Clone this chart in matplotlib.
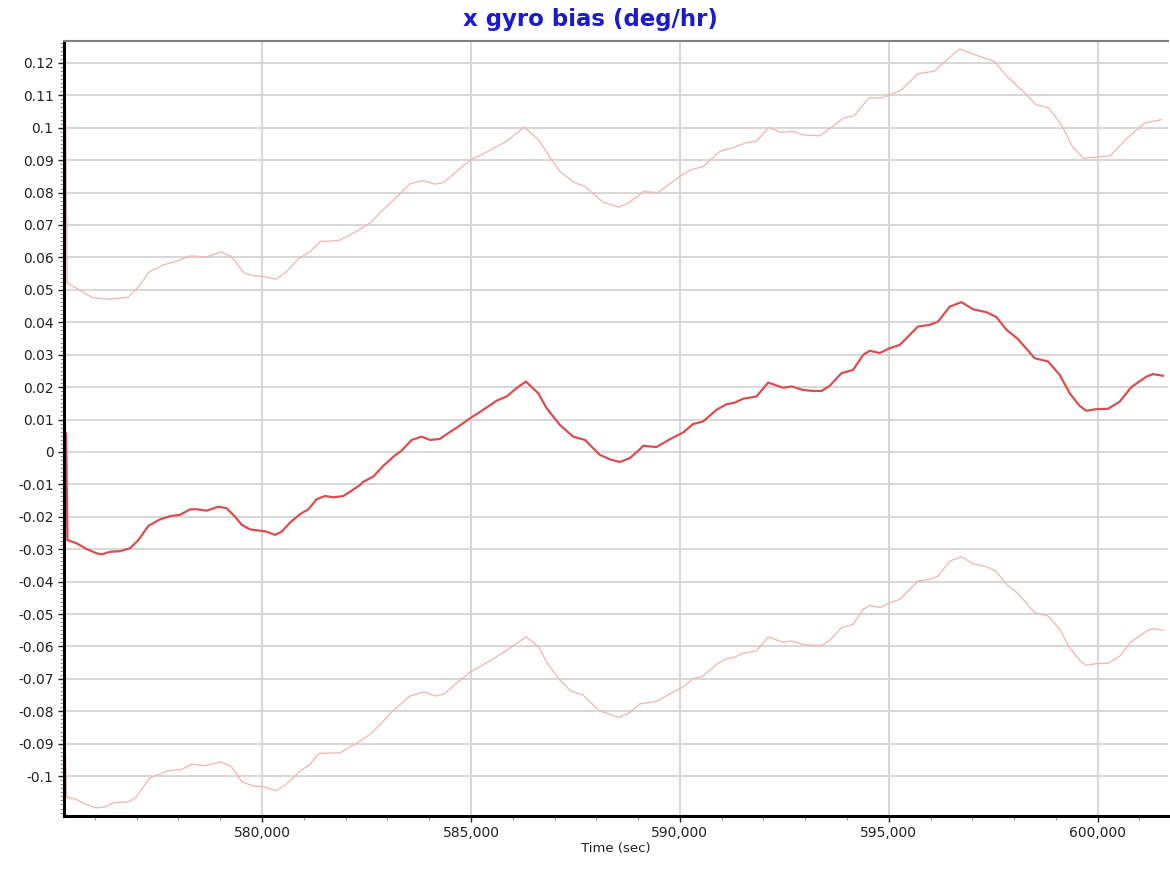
import numpy as np
import matplotlib.pyplot as plt
from matplotlib.ticker import MultipleLocator, FixedLocator, FuncFormatter

# x gyro bias estimate (deg/hr) and its upper / lower bounds
t_mid = [575300, 575311, 575342, 575567, 575806, 576046, 576165, 576364, 576603, 576842,
         577041, 577280, 577560, 577799, 578038, 578278, 578438, 578677, 578955, 579156,
         579354, 579514, 579713, 579952, 580112, 580311, 580471, 580670, 580909, 581108,
         581309, 581507, 581706, 581945, 582105, 582344, 582423, 582663, 582902, 583141,
         583342, 583581, 583820, 584019, 584258, 584457, 584696, 585017, 585294, 585615,
         585854, 586093, 586316, 586610, 586811, 587129, 587447, 587727, 588086, 588325,
         588564, 588804, 589043, 589122, 589442, 589761, 590079, 590318, 590557, 590878,
         591117, 591316, 591514, 591835, 592112, 592471, 592672, 592950, 593189, 593390,
         593588, 593868, 594146, 594385, 594545, 594784, 595024, 595263, 595502, 595701,
         595981, 596179, 596459, 596739, 597016, 597337, 597576, 597815, 598093, 598492,
         598811, 599091, 599330, 599569, 599729, 599969, 600246, 600526, 600806, 601165,
         601323, 601562]
bias = [0.0059, 0.0055, -0.0272, -0.0282, -0.0300, -0.0313, -0.0316, -0.0308, -0.0306, -0.0297,
        -0.0272, -0.0228, -0.0208, -0.0198, -0.0194, -0.0177, -0.0177, -0.0181, -0.0169, -0.0174,
        -0.0200, -0.0225, -0.0239, -0.0243, -0.0246, -0.0256, -0.0246, -0.0218, -0.0192, -0.0177,
        -0.0146, -0.0136, -0.0140, -0.0136, -0.0123, -0.0102, -0.0092, -0.0076, -0.0043, -0.0015,
        0.0004, 0.0037, 0.0047, 0.0037, 0.0040, 0.0058, 0.0078, 0.0107, 0.0130, 0.0158,
        0.0171, 0.0197, 0.0217, 0.0181, 0.0135, 0.0083, 0.0047, 0.0037, -0.0009, -0.0023,
        -0.0031, -0.0019, 0.0008, 0.0019, 0.0015, 0.0039, 0.0060, 0.0086, 0.0094, 0.0130,
        0.0147, 0.0152, 0.0164, 0.0171, 0.0214, 0.0198, 0.0202, 0.0191, 0.0188, 0.0188,
        0.0204, 0.0243, 0.0253, 0.0299, 0.0312, 0.0305, 0.0320, 0.0330, 0.0361, 0.0387,
        0.0392, 0.0402, 0.0448, 0.0462, 0.0440, 0.0431, 0.0416, 0.0377, 0.0348, 0.0289,
        0.0279, 0.0238, 0.0181, 0.0142, 0.0127, 0.0132, 0.0133, 0.0155, 0.0200, 0.0232,
        0.0240, 0.0235]

t_up = [575300, 575337, 575596, 575935, 576364, 576792, 577048, 577304, 577646, 577988,
        578287, 578670, 579012, 579268, 579567, 579782, 580038, 580337, 580550, 580892,
        581148, 581404, 581833, 582258, 582600, 582856, 583198, 583541, 583840, 584139,
        584352, 584651, 584993, 585335, 585847, 586275, 586617, 586873, 587129, 587471,
        587727, 588155, 588538, 588782, 589129, 589478, 590000, 590261, 590565, 590957,
        591304, 591567, 591828, 592131, 592435, 592696, 592957, 593349, 593653, 593914,
        594174, 594524, 594827, 595045, 595306, 595698, 596088, 596351, 596699, 597133,
        597524, 597830, 598177, 598526, 598830, 599133, 599394, 599655, 600004, 600308,
        600701, 601136, 601526]
upper = [0.1056, 0.0521, 0.0502, 0.0476, 0.0471, 0.0477, 0.0510, 0.0556, 0.0577, 0.0590,
         0.0605, 0.0601, 0.0617, 0.0603, 0.0552, 0.0544, 0.0541, 0.0533, 0.0552, 0.0598,
         0.0618, 0.0649, 0.0652, 0.0680, 0.0708, 0.0742, 0.0783, 0.0827, 0.0837, 0.0826,
         0.0831, 0.0865, 0.0901, 0.0922, 0.0958, 0.1002, 0.0963, 0.0911, 0.0865, 0.0831,
         0.0819, 0.0771, 0.0755, 0.0768, 0.0803, 0.0800, 0.0850, 0.0870, 0.0881, 0.0927,
         0.0940, 0.0953, 0.0958, 0.1001, 0.0985, 0.0989, 0.0978, 0.0975, 0.1004, 0.1030,
         0.1037, 0.1092, 0.1092, 0.1102, 0.1117, 0.1167, 0.1174, 0.1205, 0.1243, 0.1222,
         0.1205, 0.1158, 0.1117, 0.1071, 0.1061, 0.1009, 0.0942, 0.0906, 0.0910, 0.0914,
         0.0968, 0.1015, 0.1025]

t_lo = [575300, 575321, 575553, 575766, 576022, 576235, 576450, 576792, 576962, 577304,
        577730, 578072, 578328, 578627, 579012, 579268, 579524, 579782, 580038, 580337,
        580550, 580892, 581148, 581361, 581876, 582258, 582600, 582856, 583112, 583541,
        583883, 584139, 584352, 584651, 584993, 585421, 585847, 586318, 586617, 586830,
        587129, 587385, 587684, 588069, 588538, 588804, 589043, 589442, 589761, 590079,
        590318, 590557, 590878, 591117, 591316, 591514, 591835, 592112, 592471, 592672,
        592950, 593189, 593390, 593588, 593868, 594146, 594385, 594545, 594784, 595024,
        595263, 595502, 595701, 595981, 596179, 596459, 596739, 597016, 597337, 597576,
        597815, 598093, 598492, 598811, 599091, 599330, 599569, 599729, 599969, 600246,
        600526, 600806, 601165, 601323, 601562]
lower = [-0.0945, -0.1064, -0.1072, -0.1086, -0.1098, -0.1095, -0.1082, -0.1079, -0.1069, -0.1007,
         -0.0984, -0.0979, -0.0963, -0.0968, -0.0956, -0.0971, -0.1018, -0.1030, -0.1033, -0.1045,
         -0.1028, -0.0987, -0.0963, -0.0930, -0.0928, -0.0899, -0.0870, -0.0837, -0.0801, -0.0753,
         -0.0740, -0.0753, -0.0747, -0.0714, -0.0678, -0.0647, -0.0613, -0.0570, -0.0601, -0.0652,
         -0.0704, -0.0737, -0.0750, -0.0798, -0.0819, -0.0804, -0.0777, -0.0770, -0.0746, -0.0725,
         -0.0699, -0.0691, -0.0655, -0.0638, -0.0633, -0.0621, -0.0614, -0.0571, -0.0587, -0.0583,
         -0.0594, -0.0597, -0.0597, -0.0581, -0.0542, -0.0532, -0.0486, -0.0473, -0.0480, -0.0465,
         -0.0455, -0.0424, -0.0398, -0.0393, -0.0383, -0.0337, -0.0323, -0.0345, -0.0354, -0.0369,
         -0.0408, -0.0437, -0.0496, -0.0506, -0.0547, -0.0604, -0.0643, -0.0658, -0.0653, -0.0652,
         -0.0630, -0.0585, -0.0553, -0.0545, -0.0550]

y_ticks = [-0.1, -0.09, -0.08, -0.07, -0.06, -0.05, -0.04, -0.03, -0.02, -0.01,
           0, 0.01, 0.02, 0.03, 0.04, 0.05, 0.06, 0.07, 0.08, 0.09, 0.1, 0.11, 0.12]

fig = plt.figure(figsize=(11.7, 8.69), dpi=100)
ax = fig.add_axes([0.0547, 0.061, 0.9433, 0.892])

ax.plot(t_up, upper, color='#f2b3b3', lw=0.9)
ax.plot(t_lo, lower, color='#f2b3b3', lw=0.9)
ax.plot(t_mid, bias, color='#dc4d4d', lw=1.6)

ax.set_xlim(575260, 601675)
ax.set_ylim(-0.1123, 0.1268)

ax.xaxis.set_major_locator(MultipleLocator(5000))
ax.xaxis.set_minor_locator(MultipleLocator(1000))
ax.yaxis.set_major_locator(FixedLocator(y_ticks))
ax.yaxis.set_minor_locator(MultipleLocator(0.00125))
ax.xaxis.set_major_formatter(FuncFormatter(lambda v, p: f"{v:,.0f}"))
ax.yaxis.set_major_formatter(FuncFormatter(lambda v, p: f"{round(v, 2):g}" if abs(v) > 1e-9 else "0"))

ax.grid(True, which='major', color='#d4d4d4', lw=1.3)
ax.set_axisbelow(True)

ax.spines['right'].set_visible(False)
ax.spines['top'].set_color('#808080')
ax.spines['top'].set_linewidth(1.5)
ax.spines['left'].set_linewidth(2.2)
ax.spines['bottom'].set_linewidth(2.2)

ax.tick_params(axis='both', which='major', labelsize=10, colors='#222222', length=4, width=1)
ax.tick_params(axis='both', which='minor', length=3, width=0.8, color='#999999')

ax.set_xlabel("Time (sec)", fontsize=9.5, labelpad=1, color='#222222')
fig.text(0.505, 0.978, "x gyro bias (deg/hr)", ha='center', va='center',
         fontsize=16.5, fontweight='bold', color='#1a1ad0')

fig.savefig("out.png", dpi=100)
